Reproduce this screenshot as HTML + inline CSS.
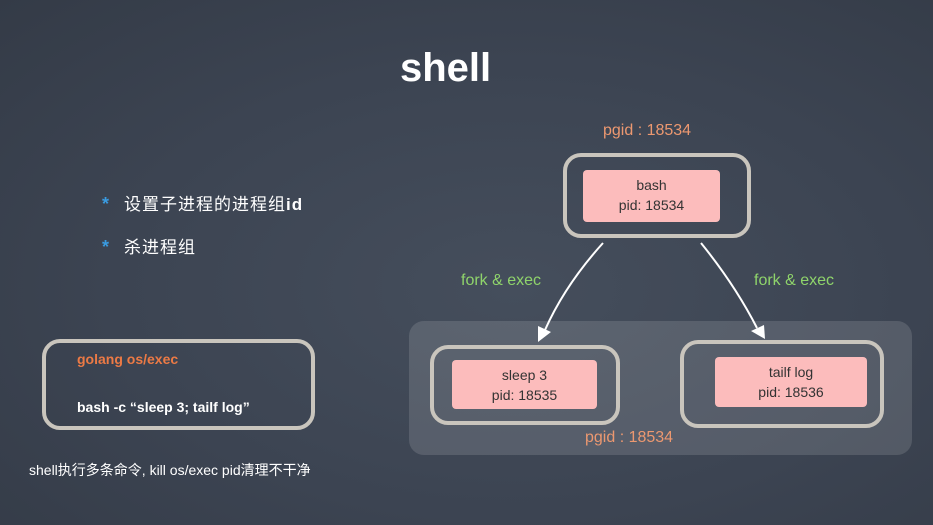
<!DOCTYPE html>
<html><head><meta charset="utf-8"><style>
body{margin:0;width:933px;height:525px;overflow:hidden;background:#3d4554;position:relative;font-family:"Liberation Sans","Noto Sans CJK SC",sans-serif;}
.a{position:absolute;}
.t{white-space:nowrap;}
.outer{position:absolute;border:4px solid #c9c5bd;border-radius:18px;box-sizing:border-box;}
.pink{position:absolute;background:#fcbcbc;border-radius:4px;color:#333;font-size:14px;text-align:center;line-height:20px;box-sizing:border-box;padding-top:5px;}
.or{color:#ec9870;font-size:16px;}
.gr{color:#8fd46b;font-size:16px;}
</style></head><body>
<div class="a" style="left:0;top:0;width:933px;height:525px;background:radial-gradient(ellipse at 55% 55%,#454e5c 0%,#3c4452 55%,#343b47 100%);"></div>
<div class="a t" style="left:400px;top:46px;font-size:40px;font-weight:bold;color:#fff;">shell</div>

<div class="a t or" style="left:603px;top:122px;">pgid : 18534</div>
<div class="outer" style="left:563px;top:153px;width:188px;height:85px;"></div>
<div class="pink" style="left:583px;top:170px;width:137px;height:52px;">bash<br>pid: 18534</div>

<div class="a" style="left:409px;top:321px;width:503px;height:134px;background:rgba(255,255,255,0.13);border-radius:15px;"></div>
<div class="outer" style="left:430px;top:345px;width:190px;height:80px;"></div>
<div class="pink" style="left:452px;top:360px;width:145px;height:49px;">sleep 3<br>pid: 18535</div>
<div class="outer" style="left:680px;top:340px;width:204px;height:88px;"></div>
<div class="pink" style="left:715px;top:357px;width:152px;height:50px;">tailf log<br>pid: 18536</div>
<div class="a t or" style="left:585px;top:429px;">pgid : 18534</div>

<div class="a t gr" style="left:461px;top:272px;">fork &amp; exec</div>
<div class="a t gr" style="left:754px;top:272px;">fork &amp; exec</div>

<svg class="a" style="left:0;top:0" width="933" height="525">
<path d="M603,243 Q565,285 545,330" stroke="#fff" stroke-width="2" fill="none"/>
<polygon points="538,342 538,326 551,332" fill="#fff"/>
<path d="M701,243 Q735,285 757,328" stroke="#fff" stroke-width="2" fill="none"/>
<polygon points="765,339 751,331 764,325" fill="#fff"/>
</svg>

<div class="a t" style="left:102px;top:194px;font-size:18px;color:#3a9be0;font-weight:bold;">*</div>
<div class="a t" style="left:124px;top:190px;font-size:17px;color:#fff;letter-spacing:1px;">设置子进程的进程组<b>id</b></div>
<div class="a t" style="left:102px;top:237px;font-size:18px;color:#3a9be0;font-weight:bold;">*</div>
<div class="a t" style="left:124px;top:233px;font-size:17px;color:#fff;letter-spacing:1px;">杀进程组</div>

<div class="outer" style="left:42px;top:339px;width:273px;height:91px;"></div>
<div class="a t" style="left:77px;top:351px;font-size:14px;color:#ec7a45;font-weight:bold;">golang os/exec</div>
<div class="a t" style="left:77px;top:399px;font-size:14px;color:#fff;font-weight:bold;">bash -c “sleep 3; tailf log”</div>
<div class="a t" style="left:29px;top:460px;font-size:14px;color:#fff;">shell执行多条命令, kill os/exec pid清理不干净</div>
</body></html>
